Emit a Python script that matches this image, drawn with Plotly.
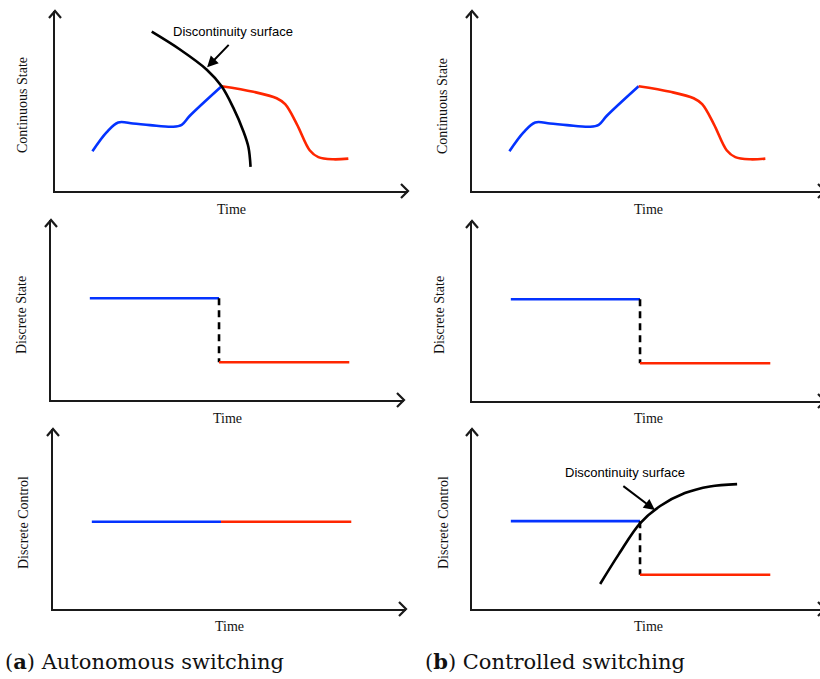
import plotly.graph_objects as go

# ---------------- data (time / state in panel units 0..100) ----------------
cont_blue_t = [10.6, 14.6, 17.9, 22.1, 26.9, 33.5, 35.9, 38.2, 47.2]
cont_blue_s = [22.1, 32.6, 38.1, 37.5, 36.6, 35.7, 36.8, 41.8, 58.2]
cont_red_t = [47.2, 56.2, 62.8, 65.2, 68.5, 72.2, 74.6, 78.8, 83.1]
cont_red_s = [58.2, 55.1, 51.5, 48.2, 37.2, 22.5, 18.8, 17.6, 18.0]

surf_a_t = [27.4, 35.4, 43.0, 47.2, 50.5, 53.3, 54.8, 55.4]
surf_a_s = [88.5, 78.6, 67.4, 58.2, 46.3, 33.5, 24.3, 13.4]

surf_b_t = [36.3, 41.6, 47.6, 53.3, 60.3, 67.4, 75.1]
surf_b_s = [13.9, 30.5, 47.6, 57.2, 64.4, 68.1, 69.4]

t_start, t_switch, t_end = 11.0, 47.6, 84.5
disc_state_hi, disc_state_lo = 56.5, 21.0
ctrl_a_level = 48.5
ctrl_b_hi, ctrl_b_lo = 48.8, 19.0

y_titles = ["Continuous State", "Discrete State", "Discrete Control"]
x_title = "Time"
surface_label = "Discontinuity surface"
captions = ["(<b>a</b>) Autonomous switching", "(<b>b</b>) Controlled switching"]

BLUE = "#0433FF"
RED = "#FF2600"
W, H = 820, 679
XL, YL = 353, 180

# panel origins (pixel corner of axes): row, col
origins = {
    (0, 0): (55, 191), (0, 1): (472, 191),
    (1, 0): (51, 400), (1, 1): (472, 401),
    (2, 0): (53, 609), (2, 1): (472, 609),
}
ylabel_pos = {
    (0, 0): (22, 105), (0, 1): (442, 106),
    (1, 0): (21, 315), (1, 1): (439, 315),
    (2, 0): (23, 523), (2, 1): (443, 523),
}
time_y = {0: 209, 1: 418, 2: 626}

fig = go.Figure()
layout = dict(width=W, height=H, margin=dict(l=0, r=0, t=0, b=0),
              paper_bgcolor="white", plot_bgcolor="white", showlegend=False)
shapes, annos = [], []
serif = "Liberation Serif"
sans = "Liberation Sans"

axmap = {}
k = 0
for (r, c), (x0, y0) in origins.items():
    k += 1
    xa = "x" if k == 1 else f"x{k}"
    ya = "y" if k == 1 else f"y{k}"
    axmap[(r, c)] = (xa, ya)
    x1 = min(x0 + XL, W)
    xr = 100.0 * (x1 - x0) / XL
    common = dict(showgrid=False, zeroline=False, showticklabels=False, ticks="",
                  showline=True, linecolor="#1a1a1a", linewidth=2, fixedrange=True)
    layout["xaxis" + ("" if k == 1 else str(k))] = dict(
        domain=[x0 / W, x1 / W], range=[0, xr], anchor=ya, **common)
    layout["yaxis" + ("" if k == 1 else str(k))] = dict(
        domain=[(H - y0) / H, (H - y0 + YL) / H], range=[0, 100], anchor=xa, **common)
    # arrow heads (chevrons)
    shapes.append(dict(type="path", xref=f"{xa} domain", yref=f"{ya} domain",
                       xsizemode="pixel", ysizemode="pixel",
                       xanchor=XL / (x1 - x0), yanchor=0,
                       path="M -7,7 L 0,0 L -7,-7", line=dict(color="#1a1a1a", width=2.2)))
    shapes.append(dict(type="path", xref=f"{xa} domain", yref=f"{ya} domain",
                       xsizemode="pixel", ysizemode="pixel",
                       xanchor=0, yanchor=1,
                       path="M -6,-7 L 0,0 L 6,-7", line=dict(color="#1a1a1a", width=2.2)))
    # titles
    lx, ly = ylabel_pos[(r, c)]
    annos.append(dict(text=y_titles[r], xref="paper", yref="paper", x=lx / W, y=(H - ly) / H,
                      showarrow=False, textangle=-90, font=dict(family=serif, size=14, color="#111"),
                      xanchor="center", yanchor="middle"))
    annos.append(dict(text=x_title, xref="paper", yref="paper", x=(x0 + XL / 2) / W,
                      y=(H - time_y[r]) / H, showarrow=False,
                      font=dict(family=serif, size=14, color="#111"),
                      xanchor="center", yanchor="middle"))

def line(xa, ya, t, s, color, dash="solid", shape="spline"):
    fig.add_trace(go.Scatter(x=t, y=s, mode="lines", xaxis=xa, yaxis=ya,
                             line=dict(color=color, width=2.6, dash=dash, shape=shape, smoothing=1.0),
                             hoverinfo="skip"))

# Row 1: continuous state
for c in (0, 1):
    xa, ya = axmap[(0, c)]
    line(xa, ya, cont_blue_t, cont_blue_s, BLUE)
    line(xa, ya, cont_red_t, cont_red_s, RED)
xa, ya = axmap[(0, 0)]
line(xa, ya, surf_a_t, surf_a_s, "black")
annos.append(dict(text=surface_label, xref=xa, yref=ya, x=50.4, y=88.5, showarrow=False,
                  font=dict(family=sans, size=13, color="black")))
annos.append(dict(text="", xref=xa, yref=ya, x=43.1, y=68.7, ax=23, ay=-24, showarrow=True,
                  arrowhead=2, arrowsize=1.1, arrowwidth=2, arrowcolor="black"))

# Row 2: discrete state
for c in (0, 1):
    xa, ya = axmap[(1, c)]
    line(xa, ya, [t_start, t_switch], [disc_state_hi, disc_state_hi], BLUE, shape="linear")
    line(xa, ya, [t_switch, t_switch], [disc_state_hi, disc_state_lo], "black", dash="7px,5px", shape="linear")
    line(xa, ya, [t_switch, t_end], [disc_state_lo, disc_state_lo], RED, shape="linear")

# Row 3: discrete control
xa, ya = axmap[(2, 0)]
line(xa, ya, [t_start, t_switch], [ctrl_a_level, ctrl_a_level], BLUE, shape="linear")
line(xa, ya, [t_switch, t_end], [ctrl_a_level, ctrl_a_level], RED, shape="linear")
xa, ya = axmap[(2, 1)]
line(xa, ya, [t_start, t_switch], [ctrl_b_hi, ctrl_b_hi], BLUE, shape="linear")
line(xa, ya, [t_switch, t_switch], [ctrl_b_hi, ctrl_b_lo], "black", dash="7px,5px", shape="linear")
line(xa, ya, [t_switch, t_end], [ctrl_b_lo, ctrl_b_lo], RED, shape="linear")
line(xa, ya, surf_b_t, surf_b_s, "black")
annos.append(dict(text=surface_label, xref=xa, yref=ya, x=43.3, y=75.6, showarrow=False,
                  font=dict(family=sans, size=13, color="black")))
annos.append(dict(text="", xref=xa, yref=ya, x=51.8, y=55.0, ax=-33, ay=-25, showarrow=True,
                  arrowhead=2, arrowsize=1.1, arrowwidth=2, arrowcolor="black"))

# captions
cap_font = dict(family="DejaVu Serif", size=21, color="#111")
annos.append(dict(text=captions[0], xref="paper", yref="paper", x=3 / W, y=(H - 661) / H,
                  xanchor="left", yanchor="middle", showarrow=False, font=cap_font))
annos.append(dict(text=captions[1], xref="paper", yref="paper", x=423 / W, y=(H - 661) / H,
                  xanchor="left", yanchor="middle", showarrow=False, font=cap_font))

layout["shapes"] = shapes
layout["annotations"] = annos
fig.update_layout(**layout)
fig.write_html("out.html")
